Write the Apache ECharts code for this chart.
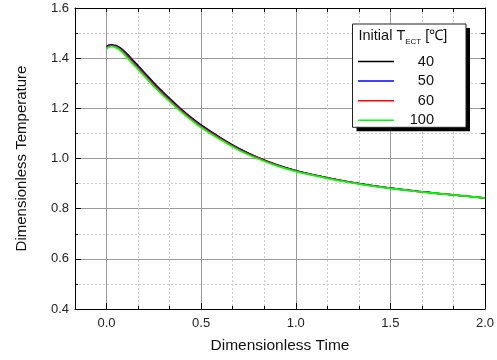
<!DOCTYPE html>
<html><head><meta charset="utf-8">
<script src="https://cdn.jsdelivr.net/npm/echarts@6/dist/echarts.min.js"></script>
<style>html,body{margin:0;padding:0;background:#fff}#c{width:497px;height:360px}</style>
</head><body><div id="c"></div>
<script>
// ---- data ----
const timeValues = [0, 0.01, 0.02, 0.03, 0.04, 0.06, 0.08, 0.1, 0.13, 0.167, 0.2, 0.25, 0.3, 0.333, 0.39, 0.45, 0.5, 0.6, 0.7, 0.8, 0.9, 1.0, 1.1, 1.2, 1.3, 1.4, 1.5, 1.6, 1.7, 1.8, 1.9, 2.0];
const temp40  = [1.447,1.451,1.453,1.453,1.452,1.447,1.437,1.423,1.400,1.370,1.343,1.302,1.264,1.240,1.200,1.162,1.134,1.084,1.040,1.004,0.975,0.952,0.934,0.918,0.904,0.892,0.882,0.873,0.865,0.857,0.850,0.843];
const temp50  = [1.445,1.450,1.452,1.452,1.450,1.445,1.434,1.420,1.396,1.366,1.339,1.298,1.260,1.236,1.197,1.159,1.131,1.082,1.038,1.003,0.974,0.951,0.933,0.918,0.904,0.892,0.882,0.873,0.865,0.857,0.850,0.843];
const temp60  = [1.443,1.448,1.450,1.450,1.448,1.442,1.431,1.416,1.392,1.362,1.335,1.294,1.257,1.233,1.194,1.156,1.128,1.080,1.036,1.002,0.973,0.950,0.933,0.917,0.904,0.891,0.881,0.872,0.864,0.857,0.850,0.843];
const temp100 = [1.437,1.443,1.446,1.447,1.445,1.438,1.426,1.410,1.385,1.355,1.328,1.288,1.251,1.228,1.189,1.152,1.124,1.076,1.033,0.999,0.971,0.949,0.932,0.916,0.903,0.891,0.881,0.872,0.864,0.857,0.850,0.842];
const seriesNames = ['40', '50', '60', '100'];
const seriesColors = ['#000000', '#0000ff', '#ff0000', '#00ff00'];
const xMajorTicks = [0, 0.5, 1.0, 1.5, 2.0];
const xMin = -1/6, xMax = 2, xMinorStep = 1/6;
const yMin = 0.4, yMax = 1.6, yMajorStep = 0.2, yMinorStep = 0.1;

const FONT = '"Liberation Sans", Arial, Helvetica, sans-serif';
const allTemps = [temp40, temp50, temp60, temp100];

const chart = echarts.init(document.getElementById('c'), null, {renderer: 'canvas'});
const blank = {show: false};
const option = {
  backgroundColor: '#fff',
  animation: false,
  grid: {left: 75, right: 12, top: 8, bottom: 51, containLabel: false, outerBoundsMode: 'none'},
  xAxis: [
    { // minor grid
      type: 'value', position: 'bottom', min: xMin, max: xMax, interval: xMinorStep,
      axisLine: {show: true, onZero: false, lineStyle: {color: '#000', width: 1}},
      axisTick: {show: true, inside: true, length: 3, lineStyle: {color: '#000'}},
      axisLabel: blank,
      splitLine: {show: true, lineStyle: {color: '#c8c8c8', type: [2, 2], width: 1}}
    },
    { // major grid + labels
      type: 'value', position: 'bottom', min: xMin, max: xMax,
      axisLine: {show: false, onZero: false},
      axisTick: {show: true, inside: true, length: 6, customValues: xMajorTicks, lineStyle: {color: '#000'}},
      axisLabel: {show: true, customValues: xMajorTicks, formatter: v => v.toFixed(1), fontSize: 13, color: '#222', fontFamily: FONT, margin: 8},
      splitLine: {show: true, lineStyle: {color: '#9a9a9a', width: 1}},
      name: 'Dimensionless Time', nameLocation: 'middle', nameGap: 29, nameMoveOverlap: false,
      nameTextStyle: {fontSize: 15.5, color: '#111', fontFamily: FONT}
    },
    { // top frame
      type: 'value', position: 'top', min: xMin, max: xMax, interval: xMinorStep,
      axisLine: {show: true, onZero: false, lineStyle: {color: '#000', width: 1}},
      axisTick: {show: true, inside: true, length: 4, lineStyle: {color: '#000'}},
      axisLabel: blank, splitLine: blank
    }
  ],
  yAxis: [
    {
      type: 'value', position: 'left', min: yMin, max: yMax, interval: yMinorStep,
      axisLine: {show: true, onZero: false, lineStyle: {color: '#000', width: 1}},
      axisTick: {show: true, inside: true, length: 3, lineStyle: {color: '#000'}},
      axisLabel: blank,
      splitLine: {show: true, lineStyle: {color: '#c8c8c8', type: [2, 2], width: 1}}
    },
    {
      type: 'value', position: 'left', min: yMin, max: yMax, interval: yMajorStep,
      axisLine: {show: false, onZero: false},
      axisTick: {show: true, inside: true, length: 6, lineStyle: {color: '#000'}},
      axisLabel: {show: true, formatter: v => v.toFixed(1), fontSize: 13, color: '#222', fontFamily: FONT, margin: 6},
      splitLine: {show: true, lineStyle: {color: '#9a9a9a', width: 1}},
      name: 'Dimensionless Temperature', nameLocation: 'middle', nameGap: 46, nameMoveOverlap: false,
      nameTextStyle: {fontSize: 15, color: '#111', fontFamily: FONT}
    },
    {
      type: 'value', position: 'right', min: yMin, max: yMax, interval: yMinorStep,
      axisLine: {show: true, onZero: false, lineStyle: {color: '#000', width: 1}},
      axisTick: {show: true, inside: true, length: 4, lineStyle: {color: '#000'}},
      axisLabel: blank, splitLine: blank
    }
  ],
  legend: {
    show: true, orient: 'vertical', left: 358, top: 54, padding: 0,
    icon: 'rect', itemWidth: 36, itemHeight: 1.5, itemGap: 4.6, z: 30,
    data: seriesNames,
    formatter: n => '{a|' + n + '}',
    textStyle: {fontSize: 14.5, color: '#111', fontFamily: FONT, lineHeight: 14,
      rich: {a: {width: 35, align: 'right', fontSize: 14.5, fontFamily: FONT, color: '#111', lineHeight: 14}}}
  },
  graphic: [
    {type: 'rect', z: 25, shape: {x: 356.5, y: 28, width: 113.5, height: 103.3}, style: {fill: '#000'}},
    {type: 'rect', z: 26, shape: {x: 352.5, y: 24, width: 113.5, height: 103.3}, style: {fill: '#fff', stroke: '#222', lineWidth: 1}},
    {type: 'text', z: 31, left: 358.5, top: 28,
      style: {text: '{m|Initial T}{s|ECT}{m| [℃]}', fill: '#111',
        rich: {
          m: {fontSize: 14.5, fontFamily: FONT, lineHeight: 20, verticalAlign: 'middle', fill: '#111'},
          s: {fontSize: 8, fontFamily: FONT, lineHeight: 7, verticalAlign: 'bottom', fill: '#111'}
        }}}
  ],
  series: seriesNames.map((name, k) => ({
    name: name, type: 'line', xAxisIndex: 0, yAxisIndex: 0,
    data: timeValues.map((t, i) => [t, allTemps[k][i]]),
    showSymbol: false, symbol: 'none', smooth: 0.4,
    color: seriesColors[k],
    lineStyle: {color: seriesColors[k], width: k === 3 ? 1.8 : 1.5},
    z: 5 + k
  }))
};
chart.setOption(option);
</script></body></html>
